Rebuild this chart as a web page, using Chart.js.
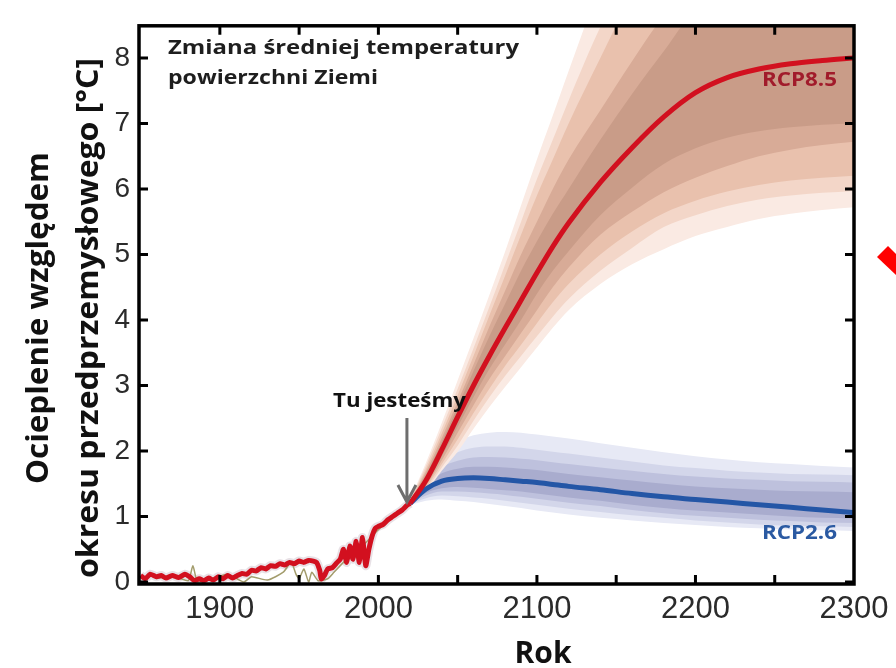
<!DOCTYPE html>
<html>
<head>
<meta charset="utf-8">
<script src="https://cdn.jsdelivr.net/npm/chart.js@4.4.1/dist/chart.umd.min.js"></script>
<style>
  html, body { margin: 0; padding: 0; background: #ffffff; }
  #wrap { width: 896px; height: 668px; position: relative; }
</style>
</head>
<body>
<div id="wrap"><canvas id="tempChart" width="896" height="668"></canvas></div>
<script>
// Historical record (model + reconstruction)
const histYears = [1850, 1853, 1856, 1860, 1863, 1866, 1870, 1874, 1878, 1881, 1884, 1887, 1890, 1893, 1896, 1899,
    1902, 1905, 1908, 1911, 1914, 1917, 1920, 1923, 1926, 1929, 1932, 1935, 1938, 1941, 1944, 1947, 1950, 1953,
    1956, 1959, 1961, 1963, 1964, 1966, 1968, 1971, 1974, 1976, 1978, 1980, 1982, 1984, 1986, 1988, 1990, 1992,
    1994, 1996, 1998, 2000, 2003, 2006, 2009, 2012, 2015, 2018, 2020];
const histValues = [0.10, 0.05, 0.12, 0.08, 0.10, 0.06, 0.10, 0.07, 0.12, 0.08, 0.02, 0.05, 0.02, 0.06, 0.03, 0.08,
    0.05, 0.10, 0.06, 0.10, 0.13, 0.12, 0.18, 0.17, 0.22, 0.20, 0.25, 0.24, 0.28, 0.26, 0.30, 0.28, 0.32, 0.30,
    0.33, 0.32, 0.30, 0.18, 0.05, 0.10, 0.20, 0.22, 0.30, 0.35, 0.50, 0.30, 0.55, 0.35, 0.62, 0.30, 0.68, 0.25,
    0.50, 0.70, 0.82, 0.85, 0.88, 0.95, 1.00, 1.05, 1.10, 1.17, 1.20];

// Observations (thin olive line)
const obsYears = [1860, 1870, 1880, 1883, 1886, 1895, 1905, 1915, 1920, 1930, 1940, 1945, 1948, 1950, 1953,
    1956, 1958, 1962, 1968, 1972, 1980, 1990, 2000, 2010];
const obsValues = [0.05, 0.10, 0.02, 0.25, 0.00, 0.05, 0.12, 0.00, 0.08, 0.03, 0.15, 0.30, 0.12, 0.05, 0.20,
    0.00, 0.15, 0.02, 0.05, 0.15, 0.35, 0.55, 0.80, 1.00];

// Projections
const projYears = [2020, 2030, 2040, 2050, 2060, 2070, 2080, 2090, 2100, 2110, 2120, 2140, 2160, 2180, 2200,
    2220, 2240, 2260, 2280, 2300];

const rcp85Median = [1.20, 1.55, 2.02, 2.52, 3.00, 3.45, 3.88, 4.30, 4.72, 5.12, 5.48, 6.10, 6.63, 7.10, 7.47, 7.70, 7.83, 7.91, 7.96, 8.00];
// band edges, outer (1) to inner (5)
const rcp85Upper1 = [1.26, 1.82, 2.43, 3.08, 3.72, 4.38, 5.05, 5.75, 6.45, 7.12, 7.80, 9.10, 10.1, 10.8, 11.2, 11.4, 11.5, 11.6, 11.6, 11.6];
const rcp85Upper2 = [1.25, 1.77, 2.35, 2.95, 3.57, 4.20, 4.85, 5.50, 6.15, 6.75, 7.35, 8.47, 9.40, 10.0, 10.4, 10.6, 10.7, 10.8, 10.8, 10.8];
const rcp85Upper3 = [1.24, 1.72, 2.27, 2.85, 3.45, 4.07, 4.68, 5.30, 5.90, 6.45, 7.00, 8.00, 8.95, 9.60, 10.0, 10.25, 10.4, 10.45, 10.5, 10.5];
const rcp85Upper4 = [1.23, 1.68, 2.20, 2.75, 3.32, 3.90, 4.45, 5.00, 5.50, 6.00, 6.45, 7.20, 7.95, 8.65, 9.20, 9.50, 9.70, 9.80, 9.85, 9.90];
const rcp85Upper5 = [1.22, 1.64, 2.14, 2.68, 3.22, 3.75, 4.25, 4.75, 5.20, 5.62, 6.00, 6.75, 7.45, 8.10, 8.75, 9.10, 9.25, 9.30, 9.35, 9.40];
const rcp85Lower5 = [1.19, 1.50, 1.92, 2.37, 2.82, 3.25, 3.63, 4.00, 4.40, 4.75, 5.05, 5.60, 6.02, 6.38, 6.62, 6.78, 6.88, 6.94, 6.98, 7.00];
const rcp85Lower4 = [1.18, 1.47, 1.86, 2.28, 2.70, 3.10, 3.45, 3.80, 4.15, 4.50, 4.80, 5.30, 5.65, 5.95, 6.17, 6.35, 6.50, 6.60, 6.67, 6.72];
const rcp85Lower3 = [1.17, 1.44, 1.80, 2.18, 2.58, 2.95, 3.30, 3.62, 3.95, 4.27, 4.55, 5.00, 5.35, 5.63, 5.82, 5.96, 6.06, 6.13, 6.17, 6.20];
const rcp85Lower2 = [1.16, 1.41, 1.75, 2.08, 2.46, 2.82, 3.15, 3.45, 3.75, 4.05, 4.32, 4.75, 5.10, 5.42, 5.60, 5.74, 5.84, 5.90, 5.94, 5.97];
const rcp85Lower1 = [1.15, 1.38, 1.70, 1.99, 2.34, 2.67, 2.98, 3.28, 3.58, 3.88, 4.15, 4.55, 4.85, 5.08, 5.28, 5.42, 5.54, 5.62, 5.68, 5.72];

const rcp26Median = [1.20, 1.42, 1.54, 1.58, 1.59, 1.58, 1.56, 1.54, 1.52, 1.49, 1.46, 1.41, 1.35, 1.30, 1.26, 1.22, 1.18, 1.14, 1.10, 1.06];
const rcp26Upper1 = [1.22, 1.70, 2.00, 2.15, 2.24, 2.28, 2.29, 2.28, 2.25, 2.22, 2.19, 2.12, 2.05, 1.98, 1.92, 1.87, 1.83, 1.80, 1.77, 1.75];
const rcp26Upper2 = [1.21, 1.60, 1.85, 1.98, 2.05, 2.07, 2.07, 2.05, 2.02, 1.99, 1.96, 1.90, 1.84, 1.78, 1.74, 1.70, 1.67, 1.65, 1.64, 1.63];
const rcp26Upper3 = [1.20, 1.54, 1.75, 1.85, 1.90, 1.91, 1.90, 1.88, 1.86, 1.83, 1.80, 1.75, 1.70, 1.65, 1.61, 1.58, 1.56, 1.54, 1.53, 1.52];
const rcp26Upper4 = [1.20, 1.49, 1.66, 1.73, 1.76, 1.76, 1.75, 1.73, 1.71, 1.68, 1.65, 1.60, 1.55, 1.50, 1.46, 1.43, 1.41, 1.39, 1.38, 1.37];
const rcp26Lower4 = [1.20, 1.36, 1.43, 1.45, 1.44, 1.42, 1.40, 1.38, 1.35, 1.32, 1.29, 1.24, 1.18, 1.13, 1.09, 1.06, 1.03, 1.00, 0.98, 0.97];
const rcp26Lower3 = [1.19, 1.32, 1.38, 1.38, 1.37, 1.35, 1.33, 1.30, 1.27, 1.24, 1.21, 1.16, 1.10, 1.05, 1.01, 0.98, 0.95, 0.93, 0.91, 0.90];
const rcp26Lower2 = [1.18, 1.28, 1.32, 1.31, 1.29, 1.27, 1.24, 1.21, 1.18, 1.15, 1.12, 1.07, 1.02, 0.98, 0.94, 0.91, 0.88, 0.86, 0.85, 0.84];
const rcp26Lower1 = [1.17, 1.24, 1.26, 1.24, 1.22, 1.19, 1.16, 1.13, 1.09, 1.06, 1.03, 0.98, 0.94, 0.90, 0.87, 0.84, 0.82, 0.80, 0.79, 0.78];

// Axes
const xLabelYears = [1900, 2000, 2100, 2200, 2300];
const xTickYears = [1900, 1950, 2000, 2050, 2100, 2150, 2200, 2250];
const yLabelValues = [0, 1, 2, 3, 4, 5, 6, 7, 8];

const redBandColors = ["#c99c88", "#d8ab97", "#e9c1ad", "#f3d6c8", "#faeae3"];   // inner -> outer
const blueBandColors = ["#a9acce", "#bec1dd", "#d3d6ea", "#e7e9f5"];             // inner -> outer

function pts(xs, ys) {
    return xs.map((x, i) => ({ x: x, y: ys[i] }));
}

function lineSet(label, xs, ys, color, width, smooth) {
    const ds = {
        label: label,
        data: pts(xs, ys),
        borderColor: color,
        borderWidth: width,
        pointRadius: 0,
        fill: false
    };
    if (smooth) ds.cubicInterpolationMode = "monotone";
    else ds.tension = 0.2;
    return ds;
}

function bandPair(upper, lower, color) {
    return [
        {
            data: pts(projYears, upper),
            borderWidth: 0,
            borderColor: color,
            backgroundColor: color,
            pointRadius: 0,
            cubicInterpolationMode: "monotone",
            fill: "+1"
        },
        {
            data: pts(projYears, lower),
            borderWidth: 0,
            pointRadius: 0,
            cubicInterpolationMode: "monotone",
            fill: false
        }
    ];
}

// index 0 is drawn on top
const datasets = [
    lineSet("RCP8.5", projYears, rcp85Median, "#d2101f", 5, true),
    lineSet("historia", histYears, histValues, "#d2101f", 5, false),
    lineSet("obserwacje", obsYears, obsValues, "#a39c6c", 1.5, false),
    lineSet("rozrzut", histYears, histValues, "rgba(150,120,140,0.22)", 9, false),
    lineSet("RCP2.6", projYears, rcp26Median, "#2456a6", 5, true),
    ...bandPair(rcp85Upper5, rcp85Lower5, redBandColors[0]),
    ...bandPair(rcp85Upper4, rcp85Lower4, redBandColors[1]),
    ...bandPair(rcp85Upper3, rcp85Lower3, redBandColors[2]),
    ...bandPair(rcp85Upper2, rcp85Lower2, redBandColors[3]),
    ...bandPair(rcp85Upper1, rcp85Lower1, redBandColors[4]),
    ...bandPair(rcp26Upper4, rcp26Lower4, blueBandColors[0]),
    ...bandPair(rcp26Upper3, rcp26Lower3, blueBandColors[1]),
    ...bandPair(rcp26Upper2, rcp26Lower2, blueBandColors[2]),
    ...bandPair(rcp26Upper1, rcp26Lower1, blueBandColors[3])
];

// draw text stretched to a given width (the source lettering is wide)
function fitText(ctx, text, x, y, width, align) {
    const w = ctx.measureText(text).width;
    const k = width / w;
    ctx.save();
    ctx.translate(x, y);
    ctx.scale(k, 1);
    ctx.textAlign = align;
    ctx.fillText(text, 0, 0);
    ctx.restore();
}

// Frame, inward ticks, labels and arrow
const decorPlugin = {
    id: "decor",
    afterDraw(chart) {
        const ctx = chart.ctx;
        const a = chart.chartArea;
        const xs = chart.scales.x;
        const ys = chart.scales.y;
        ctx.save();

        // inward tick marks
        ctx.strokeStyle = "#000";
        ctx.lineWidth = 3;
        ctx.beginPath();
        xTickYears.forEach(v => {
            const px = xs.getPixelForValue(v);
            ctx.moveTo(px, a.bottom); ctx.lineTo(px, a.bottom - 9);
            ctx.moveTo(px, a.top); ctx.lineTo(px, a.top + 9);
        });
        yLabelValues.forEach(v => {
            const py = ys.getPixelForValue(v);
            ctx.moveTo(a.left, py); ctx.lineTo(a.left + 9, py);
            ctx.moveTo(a.right, py); ctx.lineTo(a.right - 9, py);
        });
        ctx.stroke();

        // frame
        ctx.lineWidth = 3.5;
        ctx.strokeRect(a.left, a.top, a.right - a.left, a.bottom - a.top);

        ctx.textBaseline = "alphabetic";

        // title inside plot
        ctx.fillStyle = "#1e1e1e";
        ctx.font = "bold 19px 'Open Sans'";
        fitText(ctx, "Zmiana średniej temperatury", 168, 54, 351, "left");
        fitText(ctx, "powierzchni Ziemi", 168, 84, 210, "left");

        // series labels
        ctx.font = "bold 20px 'Open Sans'";
        ctx.fillStyle = "#a11b2b";
        fitText(ctx, "RCP8.5", 837, 86, 75, "right");
        ctx.fillStyle = "#2b5aa2";
        fitText(ctx, "RCP2.6", 837, 539, 75, "right");

        // "we are here"
        ctx.fillStyle = "#111";
        ctx.font = "bold 20px 'Open Sans'";
        fitText(ctx, "Tu jesteśmy", 399.5, 407, 133, "center");

        const ax = xs.getPixelForValue(2018);
        ctx.strokeStyle = "#6e6e6e";
        ctx.lineWidth = 3;
        ctx.beginPath();
        ctx.moveTo(ax, 418); ctx.lineTo(ax, 501);
        ctx.moveTo(ax - 9, 485); ctx.lineTo(ax, 502); ctx.lineTo(ax + 9, 485);
        ctx.stroke();

        // axis titles
        ctx.fillStyle = "#111";
        ctx.font = "bold 30px 'Open Sans'";
        ctx.textAlign = "center";
        ctx.fillText("Rok", 543, 663);

        ctx.save();
        ctx.translate(0, 318);
        ctx.rotate(-Math.PI / 2);
        ctx.font = "bold 30px 'Open Sans'";
        fitText(ctx, "Ocieplenie względem", 0, 48, 332, "center");
        fitText(ctx, "okresu przedprzemysłowego [°C]", 0, 98, 520, "center");
        ctx.restore();

        // red pointer shape at the right edge
        ctx.fillStyle = "#ff0000";
        ctx.beginPath();
        ctx.moveTo(877, 257);
        ctx.lineTo(888, 246);
        ctx.lineTo(896, 254);
        ctx.lineTo(896, 275);
        ctx.closePath();
        ctx.fill();

        ctx.restore();
    }
};

new Chart(document.getElementById("tempChart"), {
    type: "line",
    data: { datasets: datasets },
    options: {
        responsive: false,
        animation: false,
        layout: { padding: { top: 15, right: 42, left: 0, bottom: 0 } },
        plugins: {
            legend: { display: false },
            tooltip: { enabled: false }
        },
        scales: {
            x: {
                type: "linear",
                min: 1849,
                max: 2300,
                afterFit: (s) => { s.height = 84; },
                afterBuildTicks: (s) => { s.ticks = xLabelYears.map(v => ({ value: v })); },
                grid: { display: false, drawTicks: false },
                border: { display: false },
                ticks: {
                    padding: 7,
                    maxRotation: 0,
                    color: "#2b2b2b",
                    font: { family: "'Liberation Sans', Arial", size: 31 },
                    callback: (v) => String(v)
                }
            },
            y: {
                min: -0.03,
                max: 8.49,
                afterFit: (s) => { s.width = 139; },
                afterBuildTicks: (s) => { s.ticks = yLabelValues.map(v => ({ value: v })); },
                grid: { display: false, drawTicks: false },
                border: { display: false },
                ticks: {
                    padding: 9,
                    color: "#2b2b2b",
                    font: { family: "'Liberation Sans', Arial", size: 28 },
                    callback: (v) => String(v)
                }
            }
        }
    },
    plugins: [decorPlugin]
});
</script>
</body>
</html>
